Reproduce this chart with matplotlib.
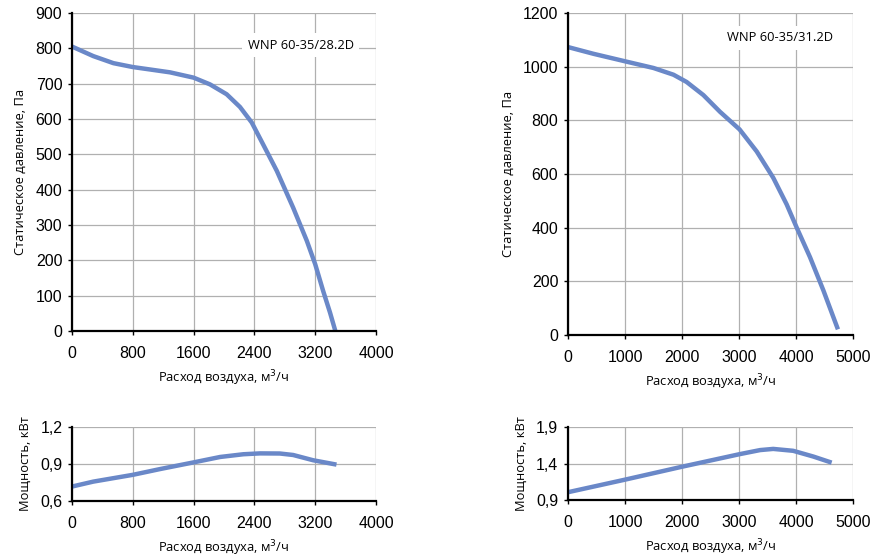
import numpy as np
import matplotlib.pyplot as plt

# WNP 60-35/28.2D
flow_a = [0, 280, 545, 800, 1030, 1290, 1600, 1815, 2035, 2210, 2365, 2515, 2695, 2910, 3090, 3200, 3305, 3395, 3465]
press_a = [805, 778, 758, 747, 740, 732, 717, 698, 670, 634, 590, 528, 453, 349, 255, 189, 113, 52, 0]
pflow_a = [0, 280, 800, 1160, 1600, 1950, 2255, 2475, 2735, 2910, 3175, 3480]
power_a = [0.717, 0.757, 0.812, 0.859, 0.913, 0.957, 0.979, 0.986, 0.985, 0.973, 0.930, 0.895]

# WNP 60-35/31.2D
flow_b = [0, 445, 1000, 1500, 1850, 2080, 2375, 2665, 3010, 3310, 3600, 3835, 4010, 4245, 4480, 4735]
press_b = [1073, 1048, 1020, 995, 970, 943, 894, 832, 766, 684, 586, 487, 401, 290, 166, 21]
pflow_b = [0, 1000, 2000, 3010, 3370, 3600, 3950, 4305, 4625]
power_b = [1.007, 1.179, 1.356, 1.528, 1.584, 1.600, 1.574, 1.495, 1.412]

line_col = '#6a88c8'
tick_font = 'Liberation Sans'
lab_font = 'Open Sans'
xlab = 'Расход воздуха, м$^3$/ч'

fig = plt.figure(figsize=(8.91, 5.60), dpi=100)

def style(ax, xmax, xstep, ymin, ymax, ystep, yfmt=None):
    ax.set_xlim(0, xmax)
    ax.set_ylim(ymin, ymax)
    ax.set_xticks(np.arange(0, xmax + 1, xstep))
    yt = np.arange(ymin, ymax + ystep / 2, ystep)
    ax.set_yticks(yt)
    if yfmt:
        ax.set_yticklabels([yfmt(v) for v in yt])
    ax.grid(True, color='#b0b0b0', linewidth=0.9)
    ax.set_axisbelow(True)
    for s in ['top', 'right']:
        ax.spines[s].set_visible(False)
    for s in ['left', 'bottom']:
        ax.spines[s].set_linewidth(1.6)
        ax.spines[s].set_color('black')
    ax.tick_params(length=3, width=1, direction='out', labelsize=11.5, pad=4)
    ax.tick_params(axis='x', pad=8)
    for lab in ax.get_xticklabels() + ax.get_yticklabels():
        lab.set_fontfamily(tick_font)
    ax.set_xlabel(xlab, fontsize=9.3, fontfamily=lab_font, labelpad=5)

ax1 = fig.add_axes([0.0808, 0.409, 0.3412, 0.5678])
ax1.plot(flow_a, press_a, color=line_col, lw=3.2, solid_capstyle='butt', solid_joinstyle='round')
style(ax1, 4000, 800, 0, 900, 100)
ax1.set_ylabel('Статическое давление, Па', fontsize=9.3, fontfamily=lab_font, labelpad=6)
ax1.text(3010, 809, 'WNP 60-35/28.2D', fontsize=9.3, fontfamily=lab_font, ha='center', va='center',
         bbox=dict(facecolor='white', edgecolor='none', pad=4))

ax2 = fig.add_axes([0.6375, 0.4018, 0.3199, 0.575])
ax2.plot(flow_b, press_b, color=line_col, lw=3.2, solid_capstyle='butt', solid_joinstyle='round')
style(ax2, 5000, 1000, 0, 1200, 200)
ax2.set_ylabel('Статическое давление, Па', fontsize=9.3, fontfamily=lab_font, labelpad=6)
ax2.text(3720, 1107, 'WNP 60-35/31.2D', fontsize=9.3, fontfamily=lab_font, ha='center', va='center',
         bbox=dict(facecolor='white', edgecolor='none', pad=4))

comma = lambda v: f'{v:.1f}'.replace('.', ',')

ax3 = fig.add_axes([0.0808, 0.1054, 0.3412, 0.1321])
ax3.plot(pflow_a, power_a, color=line_col, lw=3.2, solid_capstyle='butt', solid_joinstyle='round')
style(ax3, 4000, 800, 0.6, 1.2, 0.3, comma)
ax3.set_ylabel('Мощность, кВт', fontsize=9.3, fontfamily=lab_font, labelpad=6)

ax4 = fig.add_axes([0.6375, 0.1071, 0.3199, 0.1304])
ax4.plot(pflow_b, power_b, color=line_col, lw=3.2, solid_capstyle='butt', solid_joinstyle='round')
style(ax4, 5000, 1000, 0.9, 1.9, 0.5, comma)
ax4.set_ylabel('Мощность, кВт', fontsize=9.3, fontfamily=lab_font, labelpad=6)

fig.savefig('out.png', dpi=100)
